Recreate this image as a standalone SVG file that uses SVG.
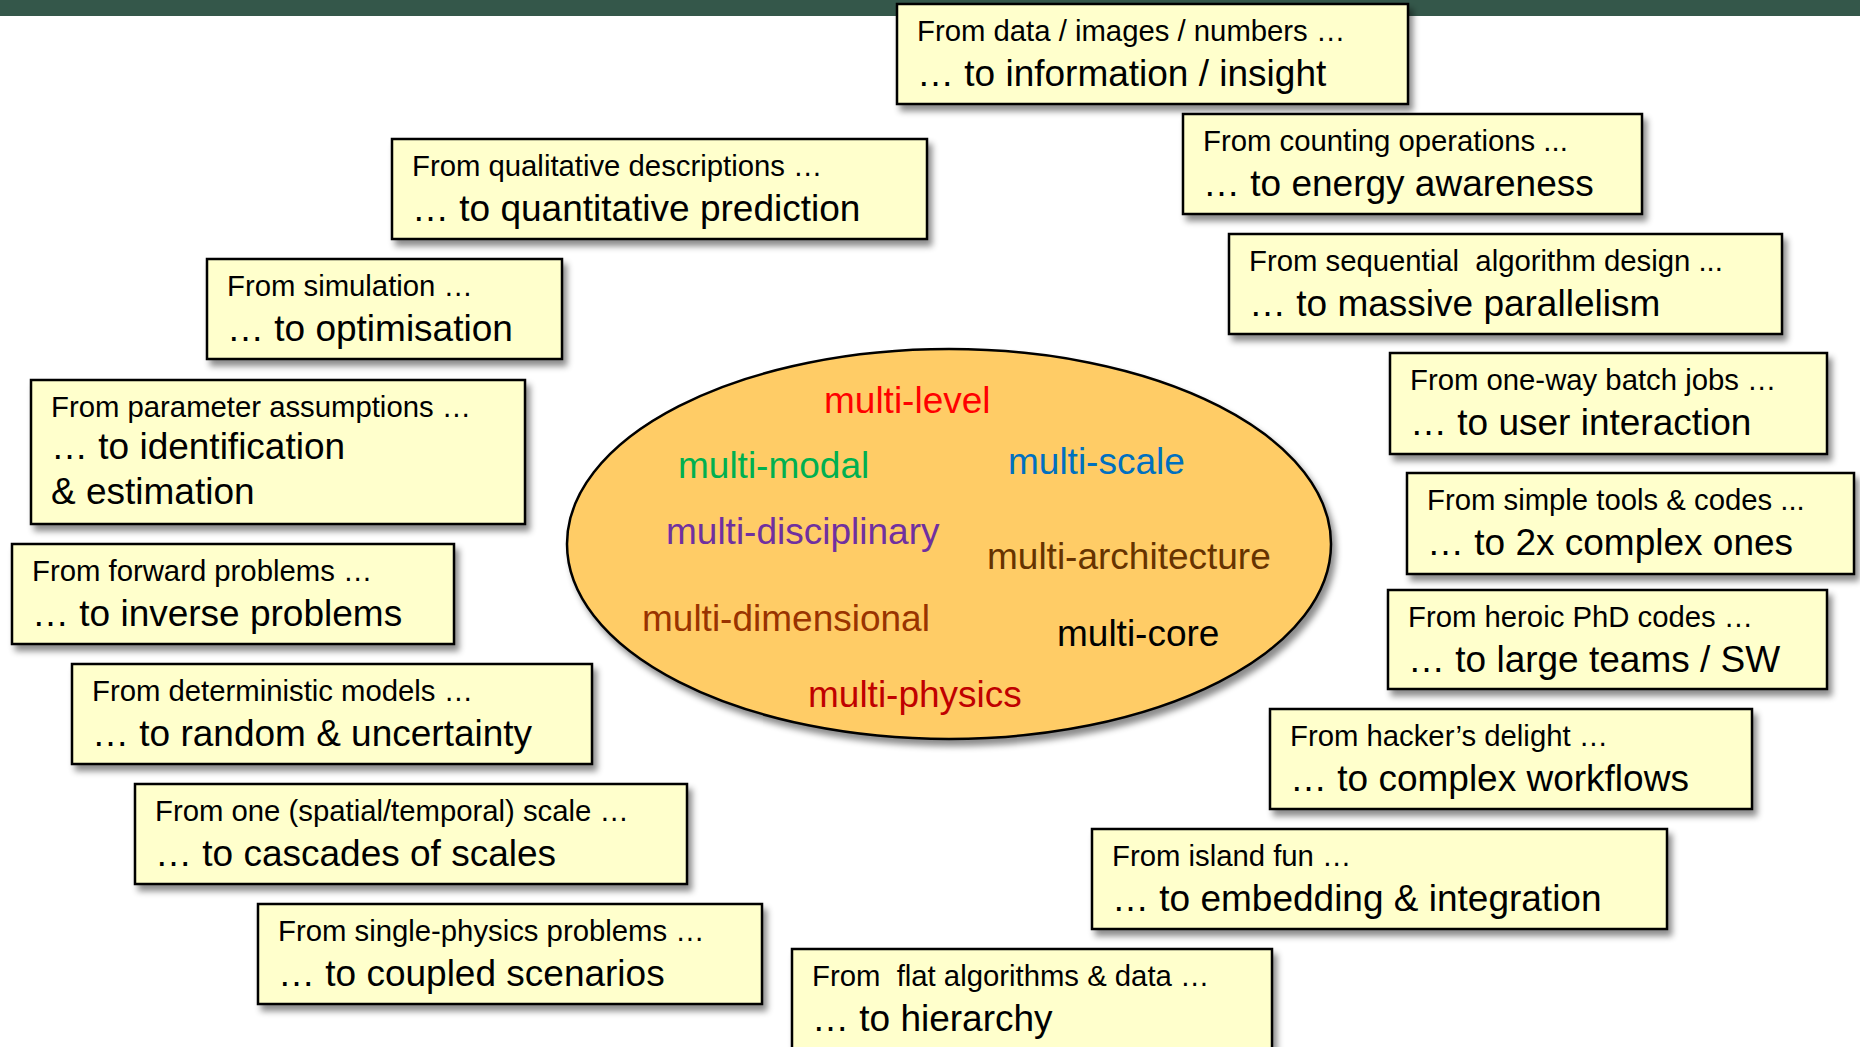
<svg xmlns="http://www.w3.org/2000/svg" width="1860" height="1047" viewBox="0 0 1860 1047">
<defs>
<filter id="sh" x="-10%" y="-10%" width="130%" height="140%">
<feDropShadow dx="4" dy="6" stdDeviation="3" flood-color="#000" flood-opacity="0.45"/>
</filter>
<style>
.box{fill:#FFFFCC;stroke:#000;stroke-width:2.5;filter:url(#sh)}
.s{font-family:"Liberation Sans",Arial,sans-serif;font-size:29.3px;fill:#000}
.l{font-family:"Liberation Sans",Arial,sans-serif;font-size:37px;fill:#000}
.m{font-family:"Liberation Sans",Arial,sans-serif;font-size:37px}
</style>
</defs>
<rect x="0" y="0" width="1860" height="16" fill="#34574A"/>
<g id="hub">
<ellipse cx="949" cy="544" rx="382" ry="195" fill="#FFCC66" stroke="#000" stroke-width="2.5" filter="url(#sh)"/>
<text class="m" x="824" y="413" fill="#FF0000">multi-level</text>
<text class="m" x="678" y="478" fill="#00B050">multi-modal</text>
<text class="m" x="1008" y="474" fill="#0070C0">multi-scale</text>
<text class="m" x="666" y="544" fill="#7030A0">multi-disciplinary</text>
<text class="m" x="987" y="569" fill="#663300">multi-architecture</text>
<text class="m" x="642" y="631" fill="#993300">multi-dimensional</text>
<text class="m" x="1057" y="646" fill="#000000">multi-core</text>
<text class="m" x="808" y="707" fill="#C00000">multi-physics</text>
</g>
<g id="connectors"></g>
<g id="n-data">
<rect class="box" x="897" y="4" width="511" height="100"/>
<text class="s" x="917" y="41">From data / images / numbers …</text>
<text class="l" x="917" y="86">… to information / insight</text>
</g>
<g id="n-counting">
<rect class="box" x="1183" y="114" width="459" height="100"/>
<text class="s" x="1203" y="151">From counting operations ...</text>
<text class="l" x="1203" y="196">… to energy awareness</text>
</g>
<g id="n-sequential">
<rect class="box" x="1229" y="234" width="553" height="100"/>
<text class="s" x="1249" y="271" xml:space="preserve">From sequential  algorithm design ...</text>
<text class="l" x="1249" y="316">… to massive parallelism</text>
</g>
<g id="n-oneway">
<rect class="box" x="1390" y="353" width="437" height="101"/>
<text class="s" x="1410" y="390">From one-way batch jobs …</text>
<text class="l" x="1410" y="435">… to user interaction</text>
</g>
<g id="n-tools">
<rect class="box" x="1407" y="473" width="447" height="101"/>
<text class="s" x="1427" y="510">From simple tools &amp; codes ...</text>
<text class="l" x="1427" y="555">… to 2x complex ones</text>
</g>
<g id="n-heroic">
<rect class="box" x="1388" y="590" width="439" height="99"/>
<text class="s" x="1408" y="627">From heroic PhD codes …</text>
<text class="l" x="1408" y="672">… to large teams / SW</text>
</g>
<g id="n-hacker">
<rect class="box" x="1270" y="709" width="482" height="100"/>
<text class="s" x="1290" y="746">From hacker’s delight …</text>
<text class="l" x="1290" y="791">… to complex workflows</text>
</g>
<g id="n-island">
<rect class="box" x="1092" y="829" width="575" height="100"/>
<text class="s" x="1112" y="866">From island fun …</text>
<text class="l" x="1112" y="911">… to embedding &amp; integration</text>
</g>
<g id="n-flat">
<rect class="box" x="792" y="949" width="480" height="110"/>
<text class="s" x="812" y="986" xml:space="preserve">From  flat algorithms &amp; data …</text>
<text class="l" x="812" y="1031">… to hierarchy</text>
</g>
<g id="n-qualitative">
<rect class="box" x="392" y="139" width="535" height="100"/>
<text class="s" x="412" y="176">From qualitative descriptions …</text>
<text class="l" x="412" y="221">… to quantitative prediction</text>
</g>
<g id="n-simulation">
<rect class="box" x="207" y="259" width="355" height="100"/>
<text class="s" x="227" y="296">From simulation …</text>
<text class="l" x="227" y="341">… to optimisation</text>
</g>
<g id="n-parameter">
<rect class="box" x="31" y="380" width="494" height="144"/>
<text class="s" x="51" y="417">From parameter assumptions …</text>
<text class="l" x="51" y="459">… to identification</text>
<text class="l" x="51" y="504">&amp; estimation</text>
</g>
<g id="n-forward">
<rect class="box" x="12" y="544" width="442" height="100"/>
<text class="s" x="32" y="581">From forward problems …</text>
<text class="l" x="32" y="626">… to inverse problems</text>
</g>
<g id="n-deterministic">
<rect class="box" x="72" y="664" width="520" height="100"/>
<text class="s" x="92" y="701">From deterministic models …</text>
<text class="l" x="92" y="746">… to random &amp; uncertainty</text>
</g>
<g id="n-scale">
<rect class="box" x="135" y="784" width="552" height="100"/>
<text class="s" x="155" y="821">From one (spatial/temporal) scale …</text>
<text class="l" x="155" y="866">… to cascades of scales</text>
</g>
<g id="n-single">
<rect class="box" x="258" y="904" width="504" height="100"/>
<text class="s" x="278" y="941">From single-physics problems …</text>
<text class="l" x="278" y="986">… to coupled scenarios</text>
</g>
</svg>
